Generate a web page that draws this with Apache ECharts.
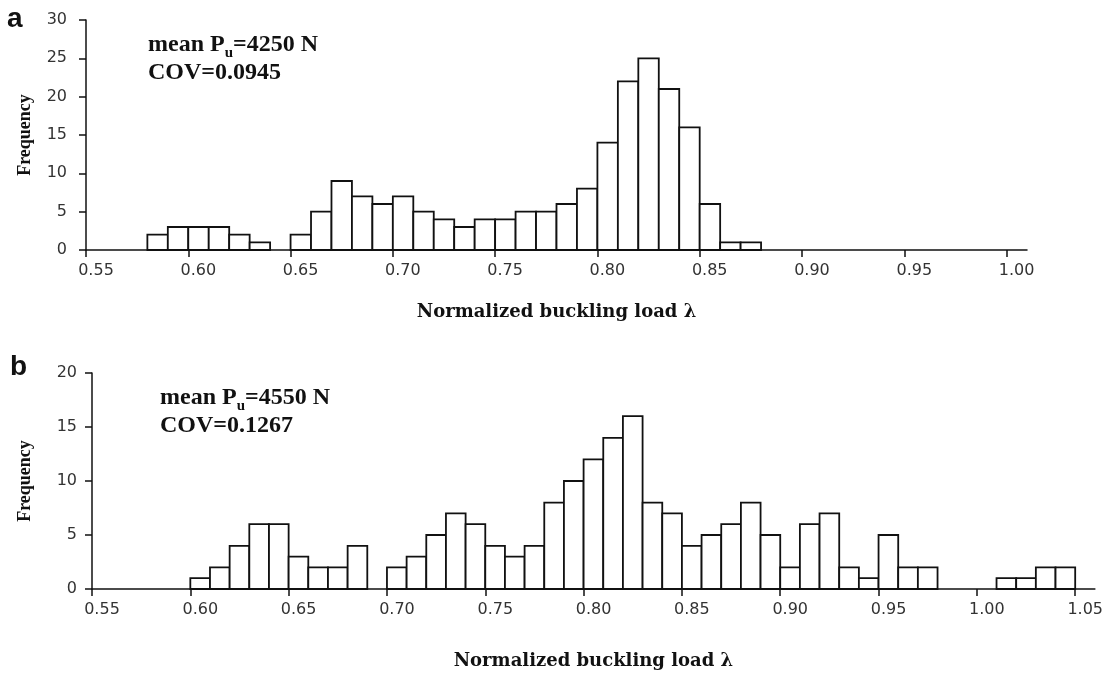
<!DOCTYPE html>
<html>
<head>
<meta charset="utf-8">
<script src="https://cdn.jsdelivr.net/npm/echarts@6/dist/echarts.min.js"></script>
<style>
  html, body { margin: 0; background: #fff; }
  #chart { width: 1106px; height: 674px; }
</style>
</head>
<body>
<div id="chart"></div>
<script>
// histogram data: left edge of each bin and its count (bin width 0.01)
const binWidth = 0.01;

const binsA = [0.58, 0.59, 0.60, 0.61, 0.62, 0.63, 0.64, 0.65, 0.66, 0.67,
  0.68, 0.69, 0.70, 0.71, 0.72, 0.73, 0.74, 0.75, 0.76, 0.77,
  0.78, 0.79, 0.80, 0.81, 0.82, 0.83, 0.84, 0.85, 0.86, 0.87];
const freqA = [2, 3, 3, 3, 2, 1, 0, 2, 5, 9,
  7, 6, 7, 5, 4, 3, 4, 4, 5, 5,
  6, 8, 14, 22, 25, 21, 16, 6, 1, 1];

const binsB = [0.60, 0.61, 0.62, 0.63, 0.64, 0.65, 0.66, 0.67, 0.68, 0.69,
  0.70, 0.71, 0.72, 0.73, 0.74, 0.75, 0.76, 0.77, 0.78, 0.79,
  0.80, 0.81, 0.82, 0.83, 0.84, 0.85, 0.86, 0.87, 0.88, 0.89,
  0.90, 0.91, 0.92, 0.93, 0.94, 0.95, 0.96, 0.97, 0.98, 0.99,
  1.00, 1.01, 1.02, 1.03, 1.04];
const freqB = [1, 2, 4, 6, 6, 3, 2, 2, 4, 0,
  2, 3, 5, 7, 6, 4, 3, 4, 8, 10,
  12, 14, 16, 8, 7, 4, 5, 6, 8, 5,
  2, 6, 7, 2, 1, 5, 2, 2, 0, 0,
  0, 1, 1, 2, 2];

const xTicksA = [0.55, 0.60, 0.65, 0.70, 0.75, 0.80, 0.85, 0.90, 0.95, 1.00];
const xTicksB = [0.55, 0.60, 0.65, 0.70, 0.75, 0.80, 0.85, 0.90, 0.95, 1.00, 1.05];

const notesA = ['4250', '0.0945'];
const notesB = ['4550', '0.1267'];

const ink = '#111';
const tickFont = '"DejaVu Sans", sans-serif';
const serif = '"Liberation Serif", "Times New Roman", serif';
const wideSerif = '"DejaVu Serif", serif';

function histItem(params, api) {
  const x0 = api.value(0);
  const v = api.value(1);
  if (!v) return null;
  const p0 = api.coord([x0, 0]);
  const p1 = api.coord([x0 + binWidth, v]);
  return {
    type: 'rect',
    shape: { x: p0[0], y: p1[1], width: p1[0] - p0[0], height: p0[1] - p1[1] },
    style: { fill: '#fff', stroke: ink, lineWidth: 1.8 }
  };
}

function xAxisFor(idx, max, ticks, gap) {
  return {
    type: 'value',
    gridIndex: idx,
    min: 0.55,
    max: max,
    name: 'Normalized buckling load λ',
    nameLocation: 'middle',
    nameGap: gap,
    nameTextStyle: { fontFamily: wideSerif, fontWeight: 'bold', fontSize: 18, color: ink },
    axisLine: { lineStyle: { color: ink, width: 1.5 } },
    axisTick: { customValues: ticks, length: 7, lineStyle: { color: ink, width: 1.5 } },
    axisLabel: {
      customValues: ticks,
      formatter: v => v.toFixed(2),
      fontFamily: tickFont, fontSize: 16, color: '#333',
      margin: 13, padding: [0, 0, 0, 20]
    },
    splitLine: { show: false }
  };
}

function yAxisFor(idx, max, gap, labelGap) {
  return {
    type: 'value',
    gridIndex: idx,
    min: 0,
    max: max,
    interval: 5,
    name: 'Frequency',
    nameLocation: 'middle',
    nameGap: gap,
    nameTextStyle: { fontFamily: serif, fontWeight: 'bold', fontSize: 18, color: ink },
    axisLine: { show: true, lineStyle: { color: ink, width: 1.5 } },
    axisTick: { show: true, length: 7, lineStyle: { color: ink, width: 1.5 } },
    axisLabel: { fontFamily: tickFont, fontSize: 16, color: '#333', margin: labelGap },
    splitLine: { show: false }
  };
}

function noteText(left, top, mean, cov) {
  const base = { fontFamily: serif, fontWeight: 'bold', fontSize: 24, fill: ink, lineHeight: 30 };
  return [
    {
      type: 'text', left: left, top: top,
      style: {
        text: '{a|mean P}{s|u}{a|=' + mean + ' N}',
        rich: {
          a: base,
          s: { fontFamily: serif, fontWeight: 'bold', fontSize: 15, fill: ink, lineHeight: 32, verticalAlign: 'bottom' }
        }
      }
    },
    {
      type: 'text', left: left, top: top + 28,
      style: { text: 'COV=' + cov, font: 'bold 24px ' + serif, fill: ink }
    }
  ];
}

const chart = echarts.init(document.getElementById('chart'));
chart.setOption({
  backgroundColor: '#fff',
  animation: false,
  grid: [
    { left: 86, top: 20, width: 941, height: 230 },
    { left: 92, top: 373, width: 1007, height: 216 }
  ],
  xAxis: [xAxisFor(0, 1.01, xTicksA, 53), xAxisFor(1, 1.06, xTicksB, 63)],
  yAxis: [yAxisFor(0, 30, 52, 19), yAxisFor(1, 20, 58, 15)],
  graphic: [
    { type: 'text', left: 7, top: 5, style: { text: 'a', font: 'bold 28px "Liberation Sans", Arial, sans-serif', fill: ink } },
    { type: 'text', left: 10, top: 353, style: { text: 'b', font: 'bold 28px "Liberation Sans", Arial, sans-serif', fill: ink } },
    ...noteText(148, 33, notesA[0], notesA[1]),
    ...noteText(160, 386, notesB[0], notesB[1])
  ],
  series: [
    {
      type: 'custom',
      xAxisIndex: 0, yAxisIndex: 0,
      renderItem: histItem,
      encode: { x: 0, y: 1 },
      clip: false,
      data: binsA.map((b, i) => [b, freqA[i]])
    },
    {
      type: 'custom',
      xAxisIndex: 1, yAxisIndex: 1,
      renderItem: histItem,
      encode: { x: 0, y: 1 },
      clip: false,
      data: binsB.map((b, i) => [b, freqB[i]])
    }
  ]
});
</script>
</body>
</html>
